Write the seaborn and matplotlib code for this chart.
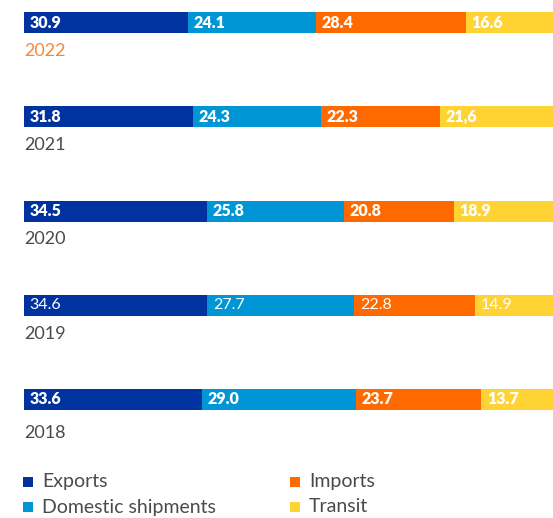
import matplotlib
matplotlib.use("Agg")
import matplotlib.pyplot as plt
from matplotlib.patches import Rectangle
import seaborn as sns
import pandas as pd
import numpy as np

# Shares of cargo traffic by type, per year (percent)
years = ["2022", "2021", "2020", "2019", "2018"]
series = ["Exports", "Domestic shipments", "Imports", "Transit"]
exports = [30.9, 31.8, 34.5, 34.6, 33.6]
domestic = [24.1, 24.3, 25.8, 27.7, 29.0]
imports = [28.4, 22.3, 20.8, 22.8, 23.7]
transit = [16.6, 21.6, 18.9, 14.9, 13.7]
value_labels = [
    ["30.9", "24.1", "28.4", "16.6"],
    ["31.8", "24.3", "22.3", "21,6"],
    ["34.5", "25.8", "20.8", "18.9"],
    ["34.6", "27.7", "22.8", "14.9"],
    ["33.6", "29.0", "23.7", "13.7"],
]
colors = ["#0033A0", "#0096D6", "#FF6A00", "#FFD333"]
year_colors = ["#F7853F", "#4A4A4A", "#4A4A4A", "#4A4A4A", "#4A4A4A"]
light_years = ["2019"]

sns.set_theme(style="white")
plt.rcParams["font.family"] = ["Lato", "DejaVu Sans"]

vals = np.array([exports, domestic, imports, transit]).T  # years x series
ends = np.cumsum(vals, axis=1)
rows = []
for i, y in enumerate(years):
    for j, s in enumerate(series):
        rows.append({"year": y, "series": s, "value": vals[i, j],
                     "end": ends[i, j], "start": ends[i, j] - vals[i, j]})
df = pd.DataFrame(rows)

W, H = 553, 518
fig = plt.figure(figsize=(W / 100, H / 100), dpi=100)
px_per_row = 94.25
top_center = 22.5
ax_h = 460
ax = fig.add_axes([24 / W, (H - ax_h) / H, (W - 24) / W, ax_h / H])

# Draw cumulative bars from the last segment to the first so they stack
for s, c in zip(series[::-1], colors[::-1]):
    sub = df[df["series"] == s]
    sns.barplot(data=sub, x="end", y="year", order=years, color=c,
                orient="h", width=21 / px_per_row, linewidth=0,
                saturation=1, ax=ax)

ax.set_xlim(0, (W - 24) / 5.30)
y_top = -top_center / px_per_row
ax.set_ylim(y_top + ax_h / px_per_row, y_top)
ax.axis("off")

for i, y in enumerate(years):
    weight = "normal" if y in light_years else "heavy"
    for j, s in enumerate(series):
        start = df[(df.year == y) & (df.series == s)]["start"].iloc[0]
        ax.annotate(value_labels[i][j], (start, i), xytext=(4, 0),
                    textcoords="offset points", ha="left", va="center",
                    color="white", fontsize=11.5, fontweight=weight)
    off = 0.30 if i < 4 else 0.355
    ax.text(0, i + off, y, ha="left", va="center", fontsize=13,
            fontweight="normal", color=year_colors[i])

# Legend: two columns of square swatches
legend_pos = [(23, 482), (23, 507), (290, 482), (290, 507)]
for (lx, ly), s, c in zip(legend_pos, series, colors):
    fig.add_artist(Rectangle((lx / W, (H - ly - 5) / H), 10 / W, 10 / H,
                             transform=fig.transFigure, color=c, lw=0))
    fig.text((lx + 19) / W, (H - ly) / H, s, ha="left", va="center",
             fontsize=14, fontweight="normal", color="#4A4A4A")

fig.savefig("out.png", dpi=100)
